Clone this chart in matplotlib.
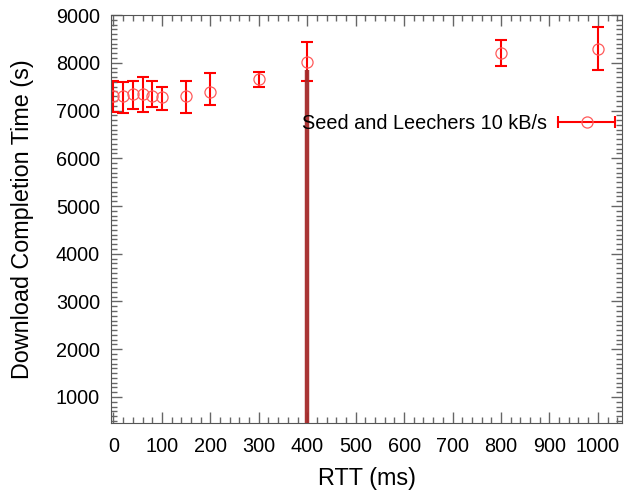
import matplotlib
matplotlib.use("Agg")
import matplotlib.pyplot as plt
from matplotlib.lines import Line2D
from matplotlib.legend_handler import HandlerLine2D
from matplotlib.ticker import MultipleLocator

plt.rcParams['font.family'] = ['Liberation Sans', 'DejaVu Sans']

# RTT (ms) vs download completion time (s)
rtt = [0, 20, 40, 60, 80, 100, 150, 200, 300, 400, 800, 1000]
mean_t = [7310, 7310, 7340, 7340, 7310, 7283, 7310, 7381, 7653, 8016, 8211, 8288]
upper_t = [7618, 7603, 7625, 7695, 7618, 7499, 7618, 7778, 7806, 8428, 8476, 8742]
lower_t = [6975, 6948, 7038, 6969, 7067, 7017, 6955, 7122, 7486, 7625, 7938, 7848]
label = "Seed and Leechers 10 kB/s"

mark_x = 400
mark_top = 7850

err_lo = [m - l for m, l in zip(mean_t, lower_t)]
err_hi = [u - m for m, u in zip(mean_t, upper_t)]

fig = plt.figure(figsize=(6.29, 4.94), dpi=100)
ax = fig.add_axes([0.1765, 0.1437, 0.8125, 0.8259])

ax.errorbar(rtt, mean_t, yerr=[err_lo, err_hi], fmt='none', ecolor='#ff0000',
            elinewidth=1.5, capsize=4.3, capthick=1.5, zorder=2)
ax.plot(rtt, mean_t, 'o', ms=8, mfc='none', mec='#ff5a5a', mew=0.9, zorder=2.5)

ax.set_xlim(-5, 1050)
ax.set_ylim(455, 9000)
ax.vlines(mark_x, 455, mark_top, color='#a52a2a', lw=3.2, alpha=0.95, zorder=3)

ax.xaxis.set_major_locator(MultipleLocator(100))
ax.xaxis.set_minor_locator(MultipleLocator(20))
ax.yaxis.set_major_locator(MultipleLocator(1000))
ax.yaxis.set_minor_locator(MultipleLocator(100))
ax.set_yticks(range(1000, 9001, 1000))
ax.tick_params(which='both', direction='in', top=True, right=True,
               color='#666666', labelsize=14.3)
ax.tick_params(which='major', length=8, width=1)
ax.tick_params(which='minor', length=4, width=1)
ax.tick_params(axis='x', pad=10)
ax.tick_params(axis='y', pad=8)
for sp in ax.spines.values():
    sp.set_color('#555555')

ax.set_xlabel("RTT (ms)", fontsize=16.8, labelpad=8)
ax.set_ylabel("Download Completion Time (s)", fontsize=16.8, labelpad=16)

# legend in gnuplot style: text on the left, horizontal bar with caps
bar = Line2D([], [], color='#ff0000', lw=1.5, marker='|', ms=9, mew=1.5)
dot = Line2D([], [], ls='none', marker='o', ms=8, mfc='none', mec='#ff5a5a', mew=0.9)
ax.legend([(bar, dot)], [label], loc='center right', bbox_to_anchor=(0.987, 0.735),
          frameon=False, markerfirst=False, fontsize=14.3, handlelength=2.9,
          handletextpad=0.55, borderpad=0, borderaxespad=0,
          handler_map={bar: HandlerLine2D(numpoints=2, marker_pad=0),
                       dot: HandlerLine2D(numpoints=1)})

fig.savefig("out.png", dpi=100)
